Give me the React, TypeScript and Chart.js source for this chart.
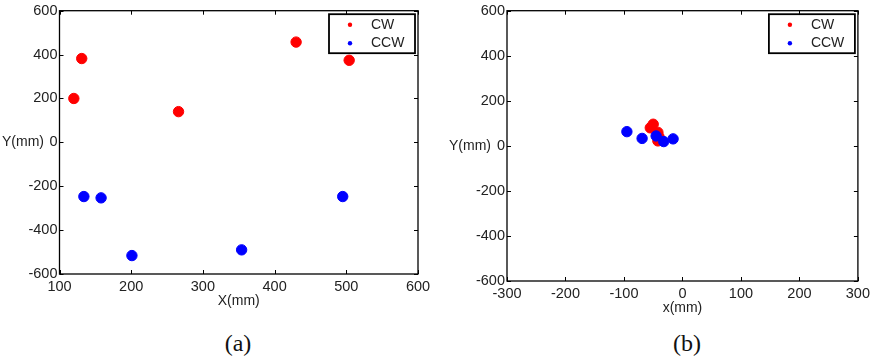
import React, { useEffect, useRef } from "react";
import { Chart, registerables } from "chart.js";
Chart.register(...registerables);

const seriesNames = ["CW", "CCW"];
const seriesColors = ["#ff0000", "#0000ff"];

// Panel (a)
const cwA = [
  { x: 131, y: 382 },
  { x: 120, y: 200 },
  { x: 266, y: 140 },
  { x: 430, y: 457 },
  { x: 504, y: 374 },
];
const ccwA = [
  { x: 134, y: -247 },
  { x: 158, y: -253 },
  { x: 201, y: -516 },
  { x: 354, y: -490 },
  { x: 495, y: -247 },
];
// Panel (b)
const cwB = [
  { x: -50, y: 96 },
  { x: -55, y: 80 },
  { x: -42, y: 60 },
  { x: -40, y: 40 },
  { x: -42, y: 22 },
];
const ccwB = [
  { x: -95, y: 63 },
  { x: -69, y: 33 },
  { x: -45, y: 44 },
  { x: -32, y: 19 },
  { x: -16, y: 31 },
];

const xRangeA = [100, 600];
const xRangeB = [-300, 300];
const yRange = [-600, 600];
const xStep = 100;
const yStep = 200;

const FONT = "'Liberation Sans', Arial, sans-serif";

type PanelProps = {
  cw: { x: number; y: number }[];
  ccw: { x: number; y: number }[];
  xRange: number[];
  xTitle: string;
  yTitle: string;
  caption: string;
  left: number;
  plotLeft: number;
  plotRight: number;
  plotTop: number;
  plotBottom: number;
  yTitleRight: number;
  captionX: number;
};

const W = 437;
const H = 325;

function Panel(p: PanelProps) {
  const ref = useRef<HTMLCanvasElement | null>(null);
  useEffect(() => {
    if (!ref.current) return;
    const decor = {
      id: "decor",
      afterDraw(chart: any) {
        const ctx = chart.ctx;
        const a = chart.chartArea;
        const xs = chart.scales.x;
        const ys = chart.scales.y;
        ctx.save();
        ctx.strokeStyle = "#000";
        ctx.lineWidth = 1.3;
        ctx.strokeRect(a.left, a.top, a.right - a.left, a.bottom - a.top);
        ctx.lineWidth = 1;
        const tl = 4;
        xs.ticks.forEach((t: any) => {
          const px = Math.round(xs.getPixelForValue(t.value)) + 0.5;
          ctx.beginPath();
          ctx.moveTo(px, a.bottom);
          ctx.lineTo(px, a.bottom - tl);
          ctx.moveTo(px, a.top);
          ctx.lineTo(px, a.top + tl);
          ctx.stroke();
        });
        ys.ticks.forEach((t: any) => {
          const py = Math.round(ys.getPixelForValue(t.value)) + 0.5;
          ctx.beginPath();
          ctx.moveTo(a.left, py);
          ctx.lineTo(a.left + tl, py);
          ctx.moveTo(a.right, py);
          ctx.lineTo(a.right - tl, py);
          ctx.stroke();
        });
        // axis titles
        ctx.fillStyle = "#222";
        ctx.font = `14px ${FONT}`;
        ctx.textBaseline = "middle";
        ctx.textAlign = "center";
        ctx.fillText(p.xTitle, (a.left + a.right) / 2, a.bottom + 27.5);
        ctx.textAlign = "right";
        ctx.fillText(p.yTitle, p.yTitleRight, ys.getPixelForValue(0));
        // legend
        const lw = 86;
        const lh = 39;
        const lx = a.right - 3 - lw;
        const ly = a.top + 3.5;
        ctx.fillStyle = "#fff";
        ctx.fillRect(lx, ly, lw, lh);
        ctx.lineWidth = 1.8;
        ctx.strokeStyle = "#000";
        ctx.strokeRect(lx, ly, lw, lh);
        chart.data.datasets.forEach((ds: any, i: number) => {
          const ry = ly + 10.5 + i * 18.5;
          ctx.fillStyle = ds.backgroundColor;
          ctx.beginPath();
          ctx.arc(lx + 21, ry, 2.2, 0, Math.PI * 2);
          ctx.fill();
          ctx.fillStyle = "#222";
          ctx.textAlign = "left";
          ctx.fillText(ds.label, lx + 42, ry);
        });
        ctx.restore();
      },
    };
    const chart = new Chart(ref.current, {
      type: "scatter",
      data: {
        datasets: [
          {
            label: seriesNames[0],
            data: p.cw,
            backgroundColor: seriesColors[0],
            borderColor: seriesColors[0],
            pointRadius: 5.2,
            order: 1,
          },
          {
            label: seriesNames[1],
            data: p.ccw,
            backgroundColor: seriesColors[1],
            borderColor: seriesColors[1],
            pointRadius: 5.2,
            order: 0,
          },
        ],
      },
      options: {
        animation: false,
        responsive: false,
        devicePixelRatio: 1,
        layout: {
          padding: { left: 0, top: p.plotTop, right: W - p.plotRight, bottom: 0 },
        },
        plugins: { legend: { display: false }, tooltip: { enabled: false } },
        scales: {
          x: {
            type: "linear",
            min: p.xRange[0],
            max: p.xRange[1],
            grid: { display: false, drawTicks: false },
            border: { display: false },
            ticks: {
              stepSize: xStep,
              autoSkip: false,
              maxRotation: 0,
              padding: 4,
              color: "#222",
              font: { family: FONT, size: 14.5 },
            },
            afterFit: (s: any) => {
              s.height = H - p.plotBottom;
            },
          },
          y: {
            type: "linear",
            min: yRange[0],
            max: yRange[1],
            grid: { display: false, drawTicks: false },
            border: { display: false },
            ticks: {
              stepSize: yStep,
              autoSkip: false,
              padding: 2,
              color: "#222",
              font: { family: FONT, size: 14.5 },
            },
            afterFit: (s: any) => {
              s.width = p.plotLeft;
            },
          },
        },
      },
      plugins: [decor],
    } as any);
    return () => chart.destroy();
  }, []);
  return (
    <div style={{ position: "absolute", left: p.left, top: 0, width: W, height: 362 }}>
      <canvas ref={ref} width={W} height={H} style={{ width: W, height: H, display: "block" }} />
      <div
        style={{
          position: "absolute",
          left: p.captionX - 40,
          width: 80,
          top: 328,
          textAlign: "center",
          fontFamily: "'Liberation Serif', 'Times New Roman', serif",
          fontSize: 24,
          lineHeight: "30px",
          color: "#111",
        }}
      >
        {p.caption}
      </div>
    </div>
  );
}

export default function App() {
  useEffect(() => {
    document.body.style.margin = "0";
  }, []);
  return (
    <div style={{ position: "relative", width: 874, height: 362, background: "#fff", overflow: "hidden" }}>
      <Panel
        cw={cwA}
        ccw={ccwA}
        xRange={xRangeA}
        xTitle="X(mm)"
        yTitle="Y(mm)"
        caption="(a)"
        left={0}
        plotLeft={59.5}
        plotRight={418}
        plotTop={8}
        plotBottom={274}
        yTitleRight={44}
        captionX={238}
      />
      <Panel
        cw={cwB}
        ccw={ccwB}
        xRange={xRangeB}
        xTitle="x(mm)"
        yTitle="Y(mm)"
        caption="(b)"
        left={437}
        plotLeft={70}
        plotRight={421.7}
        plotTop={9}
        plotBottom={281}
        yTitleRight={54}
        captionX={250}
      />
    </div>
  );
}
